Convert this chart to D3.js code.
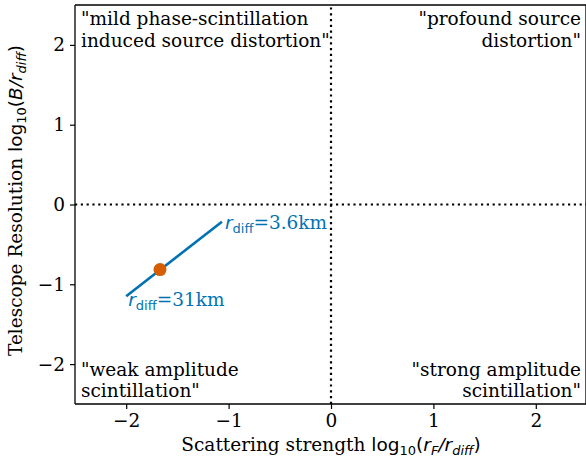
<!DOCTYPE html>
<html>
<head>
<meta charset="utf-8">
<script src="https://cdn.jsdelivr.net/npm/d3@7"></script>
<style>
  html, body { margin: 0; padding: 0; background: #fff; }
  svg { display: block; }
  text { fill: #000; }
</style>
</head>
<body>
<svg id="chart" width="586" height="461"></svg>
<script>
// ---- data ----
const xTicks = [-2, -1, 0, 1, 2];
const yTicks = [-2, -1, 0, 1, 2];
const xDomain = [-2.5, 2.5];
const yDomain = [-2.5, 2.5];
const trackX = [-2.0, -1.065];          // log10(rF/rdiff) from rdiff=31km to 3.6km
const trackY = [-1.15, -0.215];         // log10(B/rdiff)
const trackLabels = ["31km", "3.6km"];
const pointX = [-1.67];
const pointY = [-0.815];
const quadrantLabels = [
  ["\"mild phase-scintillation", "induced source distortion\""],
  ["\"profound source", "distortion\""],
  ["\"weak amplitude", "scintillation\""],
  ["\"strong amplitude", "scintillation\""]
];

// ---- layout ----
const W = 586, H = 461;
const m = { left: 75, right: 0, top: 5, bottom: 57 };
const svg = d3.select("#chart");
const x = d3.scaleLinear().domain(xDomain).range([m.left, W - m.right + 1]);
const y = d3.scaleLinear().domain(yDomain).range([H - m.bottom, m.top]);
const serif = "'DejaVu Serif', serif";
const sans = "'DejaVu Sans', sans-serif";
const FS = 18.5;
const SUB = 13;

// dotted zero lines
svg.append("line")
  .attr("x1", x(xDomain[0])).attr("x2", x(xDomain[1]))
  .attr("y1", y(0)).attr("y2", y(0))
  .attr("stroke", "#000").attr("stroke-width", 2.2)
  .attr("stroke-dasharray", "2.2,3.6");
svg.append("line")
  .attr("x1", x(0)).attr("x2", x(0))
  .attr("y1", y(yDomain[0])).attr("y2", y(yDomain[1]))
  .attr("stroke", "#000").attr("stroke-width", 2.2)
  .attr("stroke-dasharray", "2.2,3.6");

// track line
const pts = trackX.map((d, i) => [d, trackY[i]]);
svg.append("path")
  .attr("d", d3.line().x(d => x(d[0])).y(d => y(d[1]))(pts))
  .attr("stroke", "#0072B2").attr("stroke-width", 2.6).attr("fill", "none");

// point
svg.selectAll("circle.pt").data(pointX).enter().append("circle")
  .attr("class", "pt")
  .attr("cx", d => x(d)).attr("cy", (d, i) => y(pointY[i]))
  .attr("r", 6.5).attr("fill", "#D55E00");

// track labels
function rdiffLabel(px, py, val) {
  const t = svg.append("text").attr("x", px).attr("y", py)
    .attr("fill", "#0072B2").style("fill", "#0072B2").attr("font-size", FS);
  t.append("tspan").attr("font-family", sans).attr("font-style", "italic").text("r");
  t.append("tspan").attr("font-family", sans).attr("font-size", SUB).attr("dy", 4).text("diff");
  t.append("tspan").attr("font-family", serif).attr("dy", -4).text("=" + val);
}
rdiffLabel(x(trackX[1]) + 3, y(trackY[1]) + 7, trackLabels[1]);
rdiffLabel(x(trackX[0]) + 2, y(trackY[0]) + 10, trackLabels[0]);

// quadrant labels
const qPos = [
  { x: x(xDomain[0]) + 6, y: y(yDomain[1]) + 20, anchor: "start" },
  { x: x(xDomain[1]) - 6, y: y(yDomain[1]) + 20, anchor: "end" },
  { x: x(xDomain[0]) + 6, y: y(yDomain[0]) - 28.5, anchor: "start" },
  { x: x(xDomain[1]) - 6, y: y(yDomain[0]) - 28.5, anchor: "end" }
];
quadrantLabels.forEach((lines, i) => {
  const t = svg.append("text").attr("font-family", serif).attr("font-size", FS)
    .attr("text-anchor", qPos[i].anchor);
  lines.forEach((s, j) => {
    t.append("tspan").attr("x", qPos[i].x).attr("y", qPos[i].y + j * 21.5).text(s);
  });
});

// frame
const fr = svg.append("g").attr("stroke", "#000").attr("stroke-width", 1.3);
fr.append("line").attr("x1", x(-2.5)).attr("x2", x(-2.5)).attr("y1", y(-2.5)).attr("y2", y(2.5));
fr.append("line").attr("x1", x(-2.5)).attr("x2", x(2.5)).attr("y1", y(2.5)).attr("y2", y(2.5));
fr.append("line").attr("x1", x(-2.5)).attr("x2", x(2.5)).attr("y1", y(-2.5)).attr("y2", y(-2.5));
fr.append("line").attr("x1", x(2.5) - 1).attr("x2", x(2.5) - 1).attr("y1", y(-2.5)).attr("y2", y(2.5));

// axes
const fmt = d => d < 0 ? "\u2212" + Math.abs(d) : String(d);
const xAxis = svg.append("g").attr("transform", `translate(0,${y(-2.5)})`)
  .call(d3.axisBottom(x).tickValues(xTicks).tickFormat(fmt).tickSize(5).tickPadding(5));
const yAxis = svg.append("g").attr("transform", `translate(${x(-2.5)},0)`)
  .call(d3.axisLeft(y).tickValues(yTicks).tickFormat(fmt).tickSize(5).tickPadding(5));
[xAxis, yAxis].forEach(a => {
  a.select(".domain").remove();
  a.selectAll(".tick line").attr("stroke", "#000").attr("stroke-width", 1.2);
  a.selectAll(".tick text").attr("font-family", serif).attr("font-size", FS).attr("fill", "#000");
});

// axis titles
const xl = svg.append("text").attr("x", x(0)).attr("y", 451)
  .attr("text-anchor", "middle").attr("font-size", FS).attr("font-family", serif);
xl.append("tspan").text("Scattering strength ");
xl.append("tspan").attr("font-family", sans).text("log");
xl.append("tspan").attr("font-family", sans).attr("font-size", SUB).attr("dy", 4).text("10");
xl.append("tspan").attr("font-family", sans).attr("dy", -4).text("(");
xl.append("tspan").attr("font-family", sans).attr("font-style", "italic").text("r");
xl.append("tspan").attr("font-family", sans).attr("font-style", "italic").attr("font-size", SUB).attr("dy", 4).text("F");
xl.append("tspan").attr("font-family", sans).attr("font-style", "italic").attr("dy", -4).text("/r");
xl.append("tspan").attr("font-family", sans).attr("font-style", "italic").attr("font-size", SUB).attr("dy", 4).text("diff");
xl.append("tspan").attr("font-family", sans).attr("dy", -4).text(")");

const yl = svg.append("text")
  .attr("transform", `translate(22,${y(0) - 4}) rotate(-90)`)
  .attr("text-anchor", "middle").attr("font-size", FS).attr("font-family", serif);
yl.append("tspan").text("Telescope Resolution ");
yl.append("tspan").attr("font-family", sans).text("log");
yl.append("tspan").attr("font-family", sans).attr("font-size", SUB).attr("dy", 4).text("10");
yl.append("tspan").attr("font-family", sans).attr("dy", -4).text("(");
yl.append("tspan").attr("font-family", sans).attr("font-style", "italic").text("B/r");
yl.append("tspan").attr("font-family", sans).attr("font-style", "italic").attr("font-size", SUB).attr("dy", 4).text("diff");
yl.append("tspan").attr("font-family", sans).attr("dy", -4).text(")");
</script>
</body>
</html>
